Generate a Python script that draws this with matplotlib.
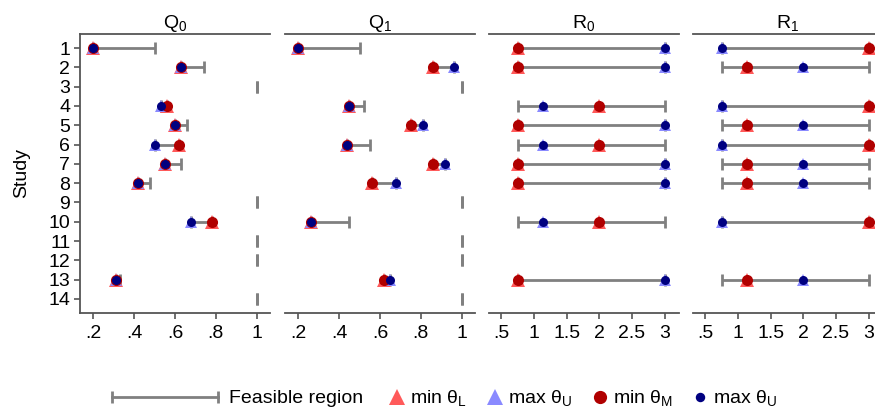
import numpy as np
import matplotlib
matplotlib.use('Agg')
import matplotlib.pyplot as plt
from matplotlib.lines import Line2D
from matplotlib.ticker import FuncFormatter

plt.rcParams['font.family'] = ['Liberation Sans', 'DejaVu Sans']
plt.rcParams['mathtext.default'] = 'regular'

N = np.nan
study = np.arange(1, 15)

# Q0 panel
q0_lo = [0.20, 0.63, 1.0, 0.53, 0.60, 0.50, 0.55, 0.42, 1.0, 0.68, 1.0, 1.0, 0.31, 1.0]
q0_hi = [0.50, 0.74, 1.0, 0.56, 0.66, 0.62, 0.63, 0.48, 1.0, 0.78, 1.0, 1.0, 0.33, 1.0]
q0_min_L = [0.20, 0.63, N, 0.56, 0.60, 0.62, 0.55, 0.42, N, 0.78, N, N, 0.31, N]
q0_max_U = [0.20, 0.63, N, 0.53, 0.60, 0.50, 0.55, 0.42, N, 0.68, N, N, 0.31, N]
q0_min_M = [0.20, 0.63, N, 0.56, 0.60, 0.62, 0.55, 0.42, N, 0.78, N, N, 0.31, N]
q0_max_Um = [0.20, 0.63, N, 0.53, 0.60, 0.50, 0.55, 0.42, N, 0.68, N, N, 0.31, N]

# Q1 panel
q1_lo = [0.20, 0.86, 1.0, 0.45, 0.75, 0.44, 0.86, 0.56, 1.0, 0.26, 1.0, 1.0, 0.62, 1.0]
q1_hi = [0.50, 0.96, 1.0, 0.52, 0.81, 0.55, 0.92, 0.68, 1.0, 0.45, 1.0, 1.0, 0.65, 1.0]
q1_min_L = [0.20, 0.86, N, 0.45, 0.75, 0.44, 0.86, 0.56, N, 0.26, N, N, 0.62, N]
q1_max_U = [0.20, 0.96, N, 0.45, 0.81, 0.44, 0.92, 0.68, N, 0.26, N, N, 0.65, N]
q1_min_M = [0.20, 0.86, N, 0.45, 0.75, 0.44, 0.86, 0.56, N, 0.26, N, N, 0.62, N]
q1_max_Um = [0.20, 0.96, N, 0.45, 0.81, 0.44, 0.92, 0.68, N, 0.26, N, N, 0.65, N]

# R0 panel
r0_lo = [0.75, 0.75, N, 0.75, 0.75, 0.75, 0.75, 0.75, N, 0.75, N, N, 0.75, N]
r0_hi = [3.0, 3.0, N, 3.0, 3.0, 3.0, 3.0, 3.0, N, 3.0, N, N, 3.0, N]
r0_min_L = [0.75, 0.75, N, 2.0, 0.75, 2.0, 0.75, 0.75, N, 2.0, N, N, 0.75, N]
r0_max_U = [3.0, 3.0, N, 1.13, 3.0, 1.13, 3.0, 3.0, N, 1.13, N, N, 3.0, N]
r0_min_M = [0.75, 0.75, N, 2.0, 0.75, 2.0, 0.75, 0.75, N, 2.0, N, N, 0.75, N]
r0_max_Um = [3.0, 3.0, N, 1.13, 3.0, 1.13, 3.0, 3.0, N, 1.13, N, N, 3.0, N]

# R1 panel
r1_lo = [0.75, 0.75, N, 0.75, 0.75, 0.75, 0.75, 0.75, N, 0.75, N, N, 0.75, N]
r1_hi = [3.0, 3.0, N, 3.0, 3.0, 3.0, 3.0, 3.0, N, 3.0, N, N, 3.0, N]
r1_min_L = [3.0, 1.13, N, 3.0, 1.13, 3.0, 1.13, 1.13, N, 3.0, N, N, 1.13, N]
r1_max_U = [0.75, 2.0, N, 0.75, 2.0, 0.75, 2.0, 2.0, N, 0.75, N, N, 2.0, N]
r1_min_M = [3.0, 1.13, N, 3.0, 1.13, 3.0, 1.13, 1.13, N, 3.0, N, N, 1.13, N]
r1_max_Um = [0.75, 2.0, N, 0.75, 2.0, 0.75, 2.0, 2.0, N, 0.75, N, N, 2.0, N]

titles = ['Q$_0$', 'Q$_1$', 'R$_0$', 'R$_1$']
q_ticks = [0.2, 0.4, 0.6, 0.8, 1.0]
r_ticks = [0.5, 1.0, 1.5, 2.0, 2.5, 3.0]

panels = [
    (q0_lo, q0_hi, q0_min_L, q0_max_U, q0_min_M, q0_max_Um, q_ticks, (0.135, 1.065)),
    (q1_lo, q1_hi, q1_min_L, q1_max_U, q1_min_M, q1_max_Um, q_ticks, (0.135, 1.065)),
    (r0_lo, r0_hi, r0_min_L, r0_max_U, r0_min_M, r0_max_Um, r_ticks, (0.31, 3.22)),
    (r1_lo, r1_hi, r1_min_L, r1_max_U, r1_min_M, r1_max_Um, r_ticks, (0.31, 3.22)),
]

gray = '#808080'
spine_c = '#555555'
c_minL = '#ff5a5a'
c_maxU = '#8a8aff'
c_minM = '#b00000'
c_maxUm = '#000080'
fs = 14

W, H = 875, 412
fig = plt.figure(figsize=(W / 100, H / 100), dpi=100)

lefts = [80, 285, 489, 693]
pw = 190
top_px, bot_px = 34, 313

fmt = FuncFormatter(lambda v, p: ('%g' % v).lstrip('0') if v < 1 else '%g' % v)

axes = []
for i, (lo, hi, minL, maxU, minM, maxUm, ticks, xl) in enumerate(panels):
    ax = fig.add_axes([lefts[i] / W, 1 - bot_px / H, pw / W, (bot_px - top_px) / H])
    axes.append(ax)
    ax.hlines(study, lo, hi, color=gray, lw=2, zorder=1)
    ax.plot(lo, study, ls='none', marker='|', ms=8, mew=2, color=gray, zorder=1)
    ax.plot(hi, study, ls='none', marker='|', ms=8, mew=2, color=gray, zorder=1)
    ax.plot(minL, study, ls='none', marker='^', ms=9.5, mew=0, color=c_minL, zorder=2)
    ax.plot(maxU, study, ls='none', marker='^', ms=8.5, mew=0, color=c_maxU, zorder=2)
    ax.plot(minM, study, ls='none', marker='o', ms=8, mew=0, color=c_minM, zorder=3)
    ax.plot(maxUm, study, ls='none', marker='o', ms=6.5, mew=0, color=c_maxUm, zorder=4)

    ax.set_xlim(*xl)
    ax.set_ylim(14.73, 0.27)
    ax.set_xticks(ticks)
    ax.xaxis.set_major_formatter(fmt)
    ax.set_title(titles[i], fontsize=fs, pad=4)
    for s in ['left', 'right']:
        ax.spines[s].set_visible(False)
    for s in ['top', 'bottom']:
        ax.spines[s].set_color(spine_c)
        ax.spines[s].set_linewidth(1.3)
    ax.tick_params(axis='x', length=4, width=1.2, color=spine_c, labelsize=fs, pad=5)
    if i == 0:
        ax.spines['left'].set_visible(True)
        ax.spines['left'].set_color(spine_c)
        ax.spines['left'].set_linewidth(1.3)
        ax.set_yticks(study)
        ax.tick_params(axis='y', length=4, width=1.2, color=spine_c, labelsize=fs, pad=3)
        ax.set_ylabel('Study', fontsize=fs, labelpad=13)
    else:
        ax.set_yticks([])

# legend drawn by hand so the feasible-region key can be long
ly = 1 - 397 / H
lb = 1 - 403 / H
tf = fig.transFigure
fig.add_artist(Line2D([112 / W, 218 / W], [ly, ly], color=gray, lw=2, transform=tf))
fig.add_artist(Line2D([112 / W, 218 / W], [ly, ly], ls='none', marker='|', ms=9, mew=2,
                      color=gray, transform=tf))
fig.text(229 / W, lb, 'Feasible region', fontsize=fs, va='baseline')
keys = [
    (397, '^', 12, c_minL, 'min θ$_L$'),
    (495, '^', 12, c_maxU, 'max θ$_U$'),
    (600, 'o', 9.5, c_minM, 'min θ$_M$'),
    (700, 'o', 6.8, c_maxUm, 'max θ$_U$'),
]
for x, m, ms, c, lab in keys:
    fig.add_artist(Line2D([x / W], [ly], ls='none', marker=m, ms=ms, mew=0, color=c, transform=tf))
    fig.text((x + 13) / W, lb, lab, fontsize=fs, va='baseline')

fig.savefig('out.png', dpi=100)
